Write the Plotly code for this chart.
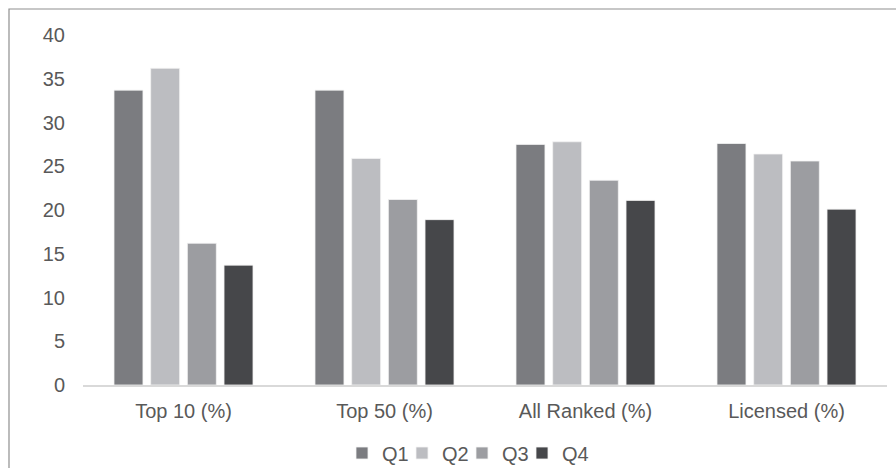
import plotly.graph_objects as go

categories = ["Top 10 (%)", "Top 50 (%)", "All Ranked (%)", "Licensed (%)"]
series_names = ["Q1", "Q2", "Q3", "Q4"]
q1 = [33.7, 33.7, 27.5, 27.6]
q2 = [36.2, 25.9, 27.8, 26.4]
q3 = [16.2, 21.2, 23.4, 25.6]
q4 = [13.7, 18.9, 21.1, 20.1]
series_values = [q1, q2, q3, q4]
colors = ["#7b7c80", "#bcbdc1", "#9c9da1", "#46474a"]
y_ticks = [0, 5, 10, 15, 20, 25, 30, 35, 40]

W, H = 896, 468
ML, MR, MT, MB = 83, 9, 35, 83
PW = W - ML - MR
PH = H - MT - MB

# legend entry left edges in pixels (layout only)
legend_px = [342, 402, 462, 522]
legend_names = ["legend", "legend2", "legend3", "legend4"]

font_family = "Liberation Sans, Arial, sans-serif"
text_col = "#595959"
FS = 20

fig = go.Figure()
for name, vals, col, lg in zip(series_names, series_values, colors, legend_names):
    fig.add_trace(go.Bar(
        x=categories, y=vals, name=name, legend=lg,
        marker=dict(color=col, line=dict(color="#f4f4f4", width=0.8)),
    ))

legend_layout = {}
for lg, px in zip(legend_names, legend_px):
    legend_layout[lg] = dict(
        orientation="h", x=(px - ML) / PW, xanchor="left",
        y=(MT + PH - 453) / PH, yanchor="middle",
        font=dict(size=FS, color=text_col), bgcolor="rgba(0,0,0,0)",
        itemwidth=30,
    )

# outer chart border (top-left corner visible, rest cropped)
bx0 = (9 - ML) / PW
bx1 = (W + 60 - ML) / PW
by1 = (MT + PH - 9) / PH
by0 = (MT + PH - (H + 60)) / PH

fig.update_layout(
    width=W, height=H,
    margin=dict(l=ML, r=MR, t=MT, b=MB, pad=0, autoexpand=False),
    paper_bgcolor="white", plot_bgcolor="white",
    barmode="group", bargap=0.27, bargroupgap=0.21,
    font=dict(family=font_family, size=FS, color=text_col),
    showlegend=True,
    xaxis=dict(
        showgrid=False, showline=True, linecolor="#d9d9d9", linewidth=1.5,
        ticks="", ticklabelstandoff=7, tickfont=dict(size=FS, color=text_col),
    ),
    yaxis=dict(
        range=[0, 40], tickvals=y_ticks, showgrid=False, zeroline=False,
        showline=False, ticks="", ticklabelstandoff=17,
        tickfont=dict(size=FS, color=text_col),
    ),
    shapes=[dict(
        type="rect", xref="paper", yref="paper",
        x0=bx0, x1=bx1, y0=by0, y1=by1,
        line=dict(color="#8f8f8f", width=1.2), fillcolor="rgba(0,0,0,0)", layer="below",
    )],
    **legend_layout,
)

fig.write_html("out.html")
